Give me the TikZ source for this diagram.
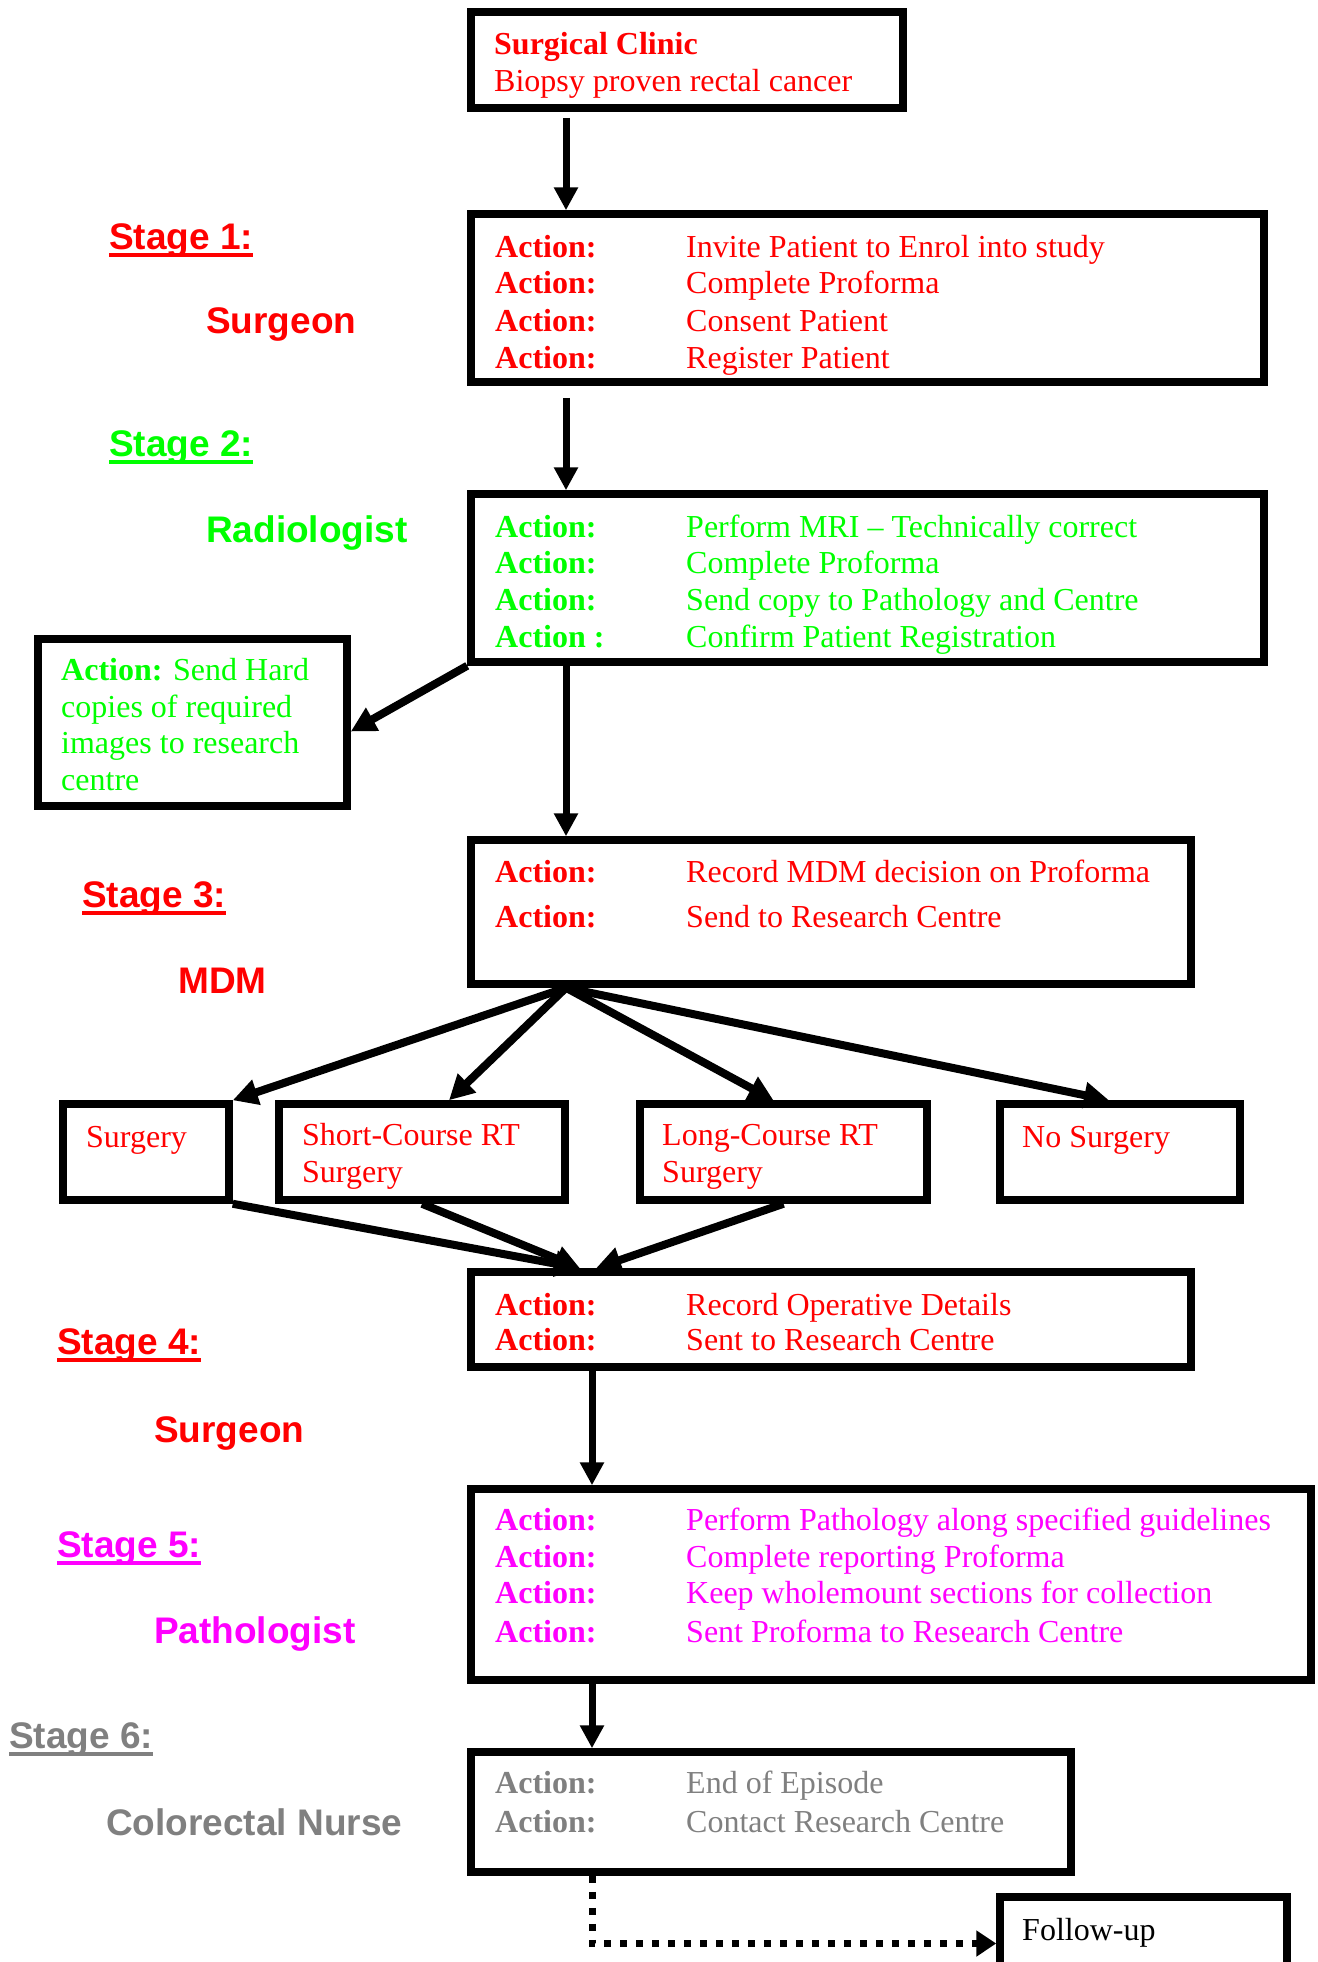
\documentclass[tikz,border=0pt]{standalone}
\usepackage{fontspec}
\setmainfont{Liberation Serif}
\newfontfamily\labfont{Liberation Sans}
\usetikzlibrary{arrows.meta}
\definecolor{rd}{RGB}{255,0,0}
\definecolor{grn}{RGB}{0,255,0}
\definecolor{mag}{RGB}{255,0,255}
\definecolor{gry}{RGB}{128,128,128}
\newcommand\actrow[5]{%
  \node[txt,#3] (#1a) at (495,#2) {\bfseries #4};
  \node[txt,#3] (#1b) at (686,#2) {#5};}
\newcommand\stagelab[5]{%
  \node[lab,#4] (#1) at (#2,#3) {#5};
  \draw[#4,line width=4.5pt] ([yshift=-6pt]#1.base west) -- ([yshift=-6pt]#1.base east);}
\begin{document}
\begin{tikzpicture}[x=1pt,y=-1pt,
  box/.style={draw=black,line width=7.5pt,inner sep=0pt},
  txt/.style={anchor=base west,inner sep=0pt,font=\fontsize{32}{37}\selectfont},
  lab/.style={anchor=base west,inner sep=0pt,font=\labfont\bfseries\fontsize{37}{42}\selectfont},
  arr/.style={line width=7pt,-{Triangle[length=23pt,width=23pt]}},
  darr/.style={line width=8pt,-{Triangle[length=25pt,width=25pt]}},
  dotarr/.style={line width=7pt,dash pattern=on 7pt off 9pt,-{Triangle[length=20pt,width=25pt]}}]
\useasboundingbox (0,0) rectangle (1317,1962);
\clip (0,0) rectangle (1317,1962);
\fill[white] (0,0) rectangle (1317,1962);
\coordinate (colA) at (566,0);
\coordinate (colB) at (592,0);
\coordinate (colC) at (580,0);
\coordinate (colD) at (596,0);
% boxes
\node[box,minimum width=432pt,minimum height=96pt] (clinic) at (687,60) {};
\node[box,minimum width=793pt,minimum height=168pt] (s1) at (867.5,298) {};
\node[box,minimum width=793pt,minimum height=168pt] (s2) at (867.5,578) {};
\node[box,minimum width=309pt,minimum height=167pt] (hard) at (192.5,722.5) {};
\node[box,minimum width=720pt,minimum height=144pt] (s3) at (831,912) {};
\node[box,minimum width=166pt,minimum height=96pt] (b1) at (146,1152) {};
\node[box,minimum width=286pt,minimum height=96pt] (b2) at (422,1152) {};
\node[box,minimum width=287pt,minimum height=96pt] (b3) at (783.5,1152) {};
\node[box,minimum width=240pt,minimum height=96pt] (b4) at (1120,1152) {};
\node[box,minimum width=720pt,minimum height=95pt] (s4) at (831,1319.5) {};
\node[box,minimum width=840pt,minimum height=191pt] (s5) at (891,1584.5) {};
\node[box,minimum width=600pt,minimum height=120pt] (s6) at (771,1812) {};
\node[box,minimum width=287pt,minimum height=93pt] (fu) at (1143.5,1943.5) {};
% texts in boxes
\node[txt,rd] (cl1) at (494,54) {\bfseries Surgical Clinic};
\node[txt,rd] (cl2) at (494,91) {Biopsy proven rectal cancer};
\actrow{r1}{257}{rd}{Action:}{Invite Patient to Enrol into study}
\actrow{r2}{293}{rd}{Action:}{Complete Proforma}
\actrow{r3}{331}{rd}{Action:}{Consent Patient}
\actrow{r4}{368}{rd}{Action:}{Register Patient}
\actrow{g1}{537}{grn}{Action:}{Perform MRI – Technically correct}
\actrow{g2}{573}{grn}{Action:}{Complete Proforma}
\actrow{g3}{610}{grn}{Action:}{Send copy to Pathology and Centre}
\actrow{g4}{647}{grn}{Action :}{Confirm Patient Registration}
\node[txt,grn] (h1) at (61,680) {\bfseries Action: \mdseries Send Hard};
\node[txt,grn] (h2) at (61,717) {copies of required};
\node[txt,grn] (h3) at (61,753) {images to research};
\node[txt,grn] (h4) at (61,790) {centre};
\actrow{m1}{882}{rd}{Action:}{Record MDM decision on Proforma}
\actrow{m2}{927}{rd}{Action:}{Send to Research Centre}
\node[txt,rd] (b1t) at (86,1147) {Surgery};
\node[txt,rd] (b2t) at (302,1145) {Short-Course RT};
\node[txt,rd] (b2u) at (302,1182) {Surgery};
\node[txt,rd] (b3t) at (662,1145) {Long-Course RT};
\node[txt,rd] (b3u) at (662,1182) {Surgery};
\node[txt,rd] (b4t) at (1022,1147) {No Surgery};
\actrow{o1}{1315}{rd}{Action:}{Record Operative Details}
\actrow{o2}{1350}{rd}{Action:}{Sent to Research Centre}
\actrow{p1}{1530}{mag}{Action:}{Perform Pathology along specified guidelines}
\actrow{p2}{1567}{mag}{Action:}{Complete reporting Proforma}
\actrow{p3}{1603}{mag}{Action:}{Keep wholemount sections for collection}
\actrow{p4}{1642}{mag}{Action:}{Sent Proforma to Research Centre}
\actrow{n1}{1793}{gry}{Action:}{End of Episode}
\actrow{n2}{1832}{gry}{Action:}{Contact Research Centre}
\node[txt,black] (fut) at (1022,1940) {Follow-up};
% stage labels
\stagelab{st1}{109}{249}{rd}{Stage 1:}
\node[lab,rd] (who1) at (206,333) {Surgeon};
\stagelab{st2}{109}{456}{grn}{Stage 2:}
\node[lab,grn] (who2) at (206,542) {Radiologist};
\stagelab{st3}{82}{907}{rd}{Stage 3:}
\node[lab,rd] (who3) at (178,993) {MDM};
\stagelab{st4}{57}{1354}{rd}{Stage 4:}
\node[lab,rd] (who4) at (154,1442) {Surgeon};
\stagelab{st5}{57}{1557}{mag}{Stage 5:}
\node[lab,mag] (who5) at (154,1643) {Pathologist};
\stagelab{st6}{9}{1748}{gry}{Stage 6:}
\node[lab,gry] (who6) at (106,1835) {Colorectal Nurse};
% connectors
\draw[arr,shorten <=6pt] (clinic.south -| colA) -- (s1.north -| colA);
\draw[arr,shorten <=12pt] (s1.south -| colA) -- (s2.north -| colA);
\draw[darr] (s2.south west) -- ([yshift=-9pt]hard.east);
\draw[arr] (s2.south -| colA) -- (s3.north -| colA);
\draw[darr] (s3.south -| colA) -- (b1.north east);
\draw[darr] (s3.south -| colA) -- ([xshift=27pt]b2.north);
\draw[darr] (s3.south -| colA) -- ([xshift=-10pt]b3.north);
\draw[darr] (s3.south -| colA) -- ([xshift=-11pt]b4.north);
\draw[darr] (b1.south east) -- (s4.north -| colC);
\draw[darr] (b2.south) -- (s4.north -| colC);
\draw[darr] (b3.south) -- (s4.north -| colD);
\draw[arr] (s4.south -| colB) -- (s5.north -| colB);
\draw[arr] (s5.south -| colB) -- (s6.north -| colB);
\draw[dotarr] (s6.south -| colB) |- (fu.west);
\end{tikzpicture}
\end{document}
